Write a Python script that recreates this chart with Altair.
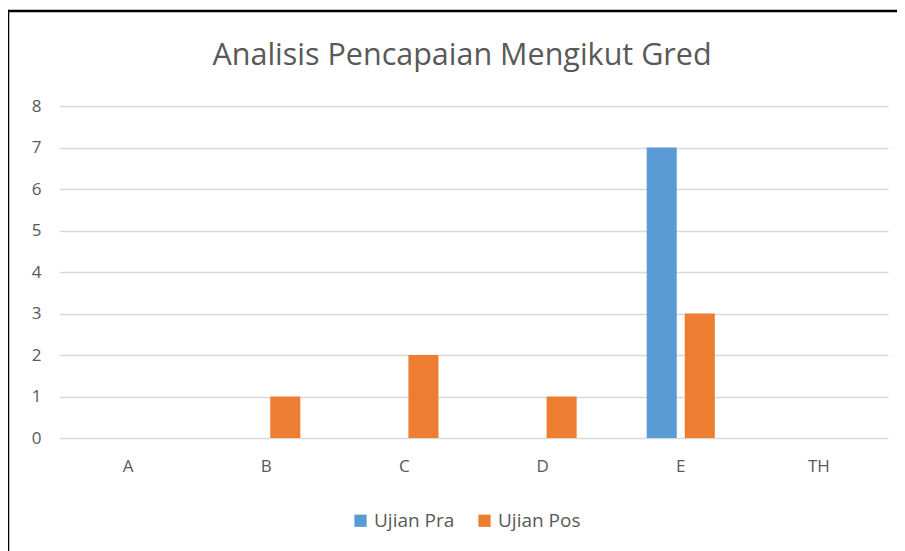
import altair as alt
import pandas as pd

grades = ["A", "B", "C", "D", "E", "TH"]
series = ["Ujian Pra", "Ujian Pos"]
pra = [0, 0, 0, 0, 7, 0]
pos = [0, 1, 2, 1, 3, 0]
colors = ["#5B9BD5", "#ED7D31"]
title_text = "Analisis Pencapaian Mengikut Gred"

rows = []
for g, a, b in zip(grades, pra, pos):
    rows.append({"Gred": g, "Ujian": series[0], "Nilai": a})
    rows.append({"Gred": g, "Ujian": series[1], "Nilai": b})
df = pd.DataFrame(rows)

FONT = "Open Sans"
GREY = "#595959"

bars = alt.Chart(df).mark_bar().encode(
    x=alt.X("Gred:N", sort=grades,
            scale=alt.Scale(paddingInner=0, paddingOuter=0),
            axis=alt.Axis(title=None, labelAngle=0, domain=False, ticks=False,
                          labelPadding=20, labelFontSize=17, labelColor=GREY,
                          labelFont=FONT)),
    xOffset=alt.XOffset("Ujian:N", sort=series,
                        scale=alt.Scale(paddingInner=0.21, paddingOuter=0.92)),
    y=alt.Y("Nilai:Q", scale=alt.Scale(domain=[0, 8], nice=False),
            axis=alt.Axis(title=None, values=list(range(9)), domain=False, ticks=False,
                          labelPadding=18, labelFontSize=17, labelColor=GREY,
                          labelFont=FONT, gridColor="#D9D9D9", gridWidth=1.5)),
    color=alt.Color("Ujian:N", sort=series,
                    scale=alt.Scale(domain=series, range=colors),
                    legend=alt.Legend(title=None, orient="none", direction="horizontal",
                                      legendX=292, legendY=405, symbolType="square",
                                      symbolSize=150, symbolStrokeWidth=0,
                                      labelFontSize=19, labelColor=GREY,
                                      labelFont=FONT, columnPadding=20, labelOffset=4)),
)

one = pd.DataFrame({"t": [title_text]})
title_mark = alt.Chart(one).mark_text(
    font=FONT, fontSize=30.5, color=GREY, align="center", baseline="middle"
).encode(text="t:N", x=alt.value(403), y=alt.value(-50))

left_border = alt.Chart(one).mark_rule(color="#000000", strokeWidth=2.5).encode(
    x=alt.value(-51), y=alt.value(-95), y2=alt.value(445)
)
top_border = alt.Chart(one).mark_rule(color="#000000", strokeWidth=2.5).encode(
    x=alt.value(-51), x2=alt.value(840), y=alt.value(-95)
)

chart = alt.layer(bars, title_mark, left_border, top_border).properties(
    width=829, height=332,
    autosize=alt.AutoSizeParams(type="none"),
    padding={"left": 51, "top": 98, "right": 9, "bottom": 113},
).configure_view(stroke=None)

chart.save("out.html", embed_options={"renderer": "svg", "actions": False})
